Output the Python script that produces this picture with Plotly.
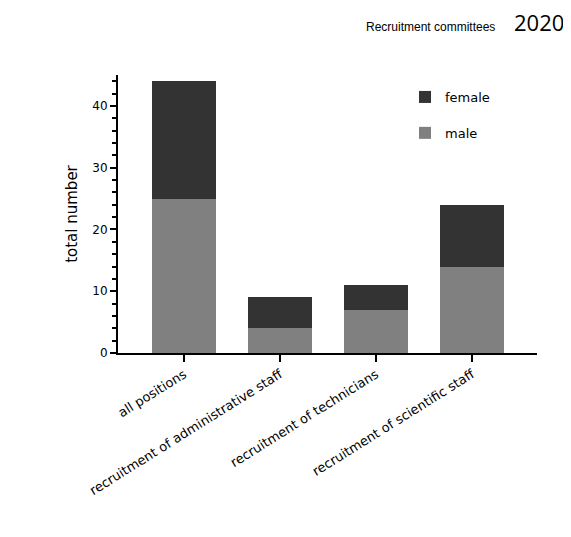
import plotly.graph_objects as go

categories = ["all positions", "recruitment of administrative staff",
              "recruitment of technicians", "recruitment of scientific staff"]
male = [25, 4, 7, 14]
female = [19, 5, 4, 10]
y_ticks = [0, 10, 20, 30, 40]

font = "DejaVu Sans, sans-serif"

# page body has an 8px margin; compensate so plot area lands where the reference has it
W, H = 563, 529
ML, MT = 110, 67
PW, PH = 419, 278
MR = W - ML - PW
MB = H - MT - PH

fig = go.Figure()
fig.add_trace(go.Bar(x=categories, y=male, name="male", legendgroup="m", legendrank=2,
                     marker=dict(color="#808080", line=dict(width=0)), width=0.667))
fig.add_trace(go.Bar(x=categories, y=female, name="female", legendgroup="f", legendrank=1,
                     marker=dict(color="#333333", line=dict(width=0)), width=0.667))


def px_x(x):
    return (x - 8 - ML) / PW


def px_y(y):
    return (H - MB - (y - 8)) / PH


fig.update_layout(
    barmode="stack",
    width=W, height=H,
    margin=dict(l=ML, r=MR, t=MT, b=MB),
    plot_bgcolor="white", paper_bgcolor="white",
    font=dict(family=font, size=12, color="#000000"),
    showlegend=True,
    legend=dict(traceorder="grouped", x=px_x(405), y=px_y(82),
                xanchor="left", yanchor="top",
                font=dict(size=13), itemwidth=30, tracegroupgap=16,
                bgcolor="rgba(0,0,0,0)"),
    xaxis=dict(range=[-0.6875, 3.677], showline=True, linecolor="black", linewidth=2,
               ticks="outside", ticklen=7, tickwidth=2, tickcolor="black",
               tickangle=-32, tickfont=dict(size=13), showgrid=False, zeroline=False),
    yaxis=dict(range=[0, 45], showline=True, linecolor="black", linewidth=2,
               tickvals=y_ticks, ticks="outside", ticklen=6, tickwidth=2, tickcolor="black",
               minor=dict(dtick=2, tick0=0, ticks="outside", ticklen=4, tickwidth=2,
                          tickcolor="black", showgrid=False),
               showgrid=False, zeroline=False, tickfont=dict(size=12),
               title=dict(text="total number", font=dict(size=15), standoff=11)),
    annotations=[
        dict(text="Recruitment committees", xref="paper", yref="paper",
             x=px_x(497), y=px_y(27), xanchor="right", yanchor="middle",
             showarrow=False, font=dict(size=12, family="Liberation Sans, Arial, sans-serif")),
        dict(text="2020", xref="paper", yref="paper",
             x=px_x(566), y=px_y(22), xanchor="right", yanchor="middle",
             showarrow=False, font=dict(size=22, family="Open Sans, sans-serif")),
    ],
)

fig.write_html("out.html")
